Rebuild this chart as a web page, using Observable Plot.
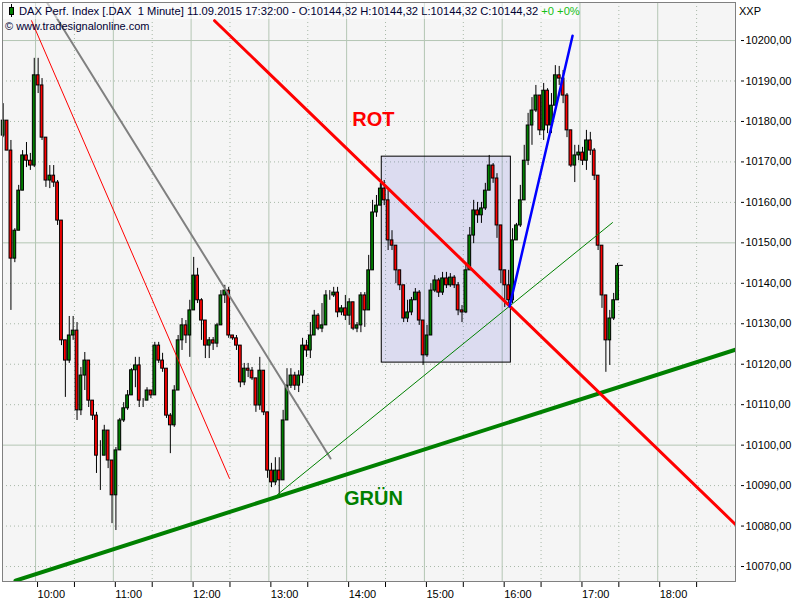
<!DOCTYPE html>
<html><head><meta charset="utf-8">
<script src="https://cdn.jsdelivr.net/npm/d3@7"></script>
<script src="https://cdn.jsdelivr.net/npm/@observablehq/plot@0.6"></script>
<style>
body{margin:0;background:#fff;}
#chart{position:absolute;left:0;top:0;}
</style></head><body><div id="chart"></div>
<script>
// ---- data (DAX 11.09.2015, 3-minute sampling of the 1-minute chart) ----
const startTime = "2015-09-11T09:35:00Z";
const intervalMinutes = 3;
const firstOpen = 10176.5;
const closes = [
10180.2,10172.8,10146.1,10153.0,10162.9,10171.6,10170.3,10169.1,10191.4,10188.9,
10176.0,10165.4,10166.6,10164.9,10155.5,10125.9,10120.9,10127.1,10128.3,10108.6,
10117.2,10120.9,10111.0,10107.3,10097.4,10097.4,10103.6,10096.2,10087.6,10098.7,
10106.1,10109.1,10112.3,10118.5,10119.7,10111.0,10111.0,10113.5,10112.3,10124.6,
10120.9,10118.9,10107.3,10104.9,10113.5,10125.9,10129.6,10127.1,10133.3,10141.9,
10135.8,10130.8,10124.6,10125.9,10125.1,10129.6,10137.0,10138.2,10127.1,10126.4,
10124.6,10115.5,10118.9,10118.4,10116.5,10109.8,10118.4,10108.1,10093.7,10090.8,
10093.7,10091.3,10106.1,10114.7,10117.2,10114.7,10117.2,10124.6,10123.4,10127.1,
10132.0,10128.8,10129.6,10137.0,10137.0,10137.7,10132.8,10133.8,10132.0,10135.3,
10128.8,10129.6,10137.0,10133.3,10143.2,10157.5,10159.2,10163.4,10160.5,10150.6,
10149.3,10143.2,10139.5,10131.3,10132.8,10135.8,10137.7,10130.8,10122.2,10127.1,
10138.2,10140.7,10137.7,10141.2,10139.5,10141.4,10139.5,10133.3,10132.8,10143.2,
10151.8,10158.0,10156.8,10158.5,10162.9,10169.1,10165.9,10154.3,10143.2,10139.5,
10135.8,10150.6,10154.3,10160.5,10170.3,10179.0,10182.7,10186.4,10177.8,10187.6,
10179.0,10183.9,10191.4,10190.6,10186.4,10177.8,10169.1,10171.6,10172.3,10170.3,
10175.3,10172.8,10166.6,10149.3,10137.0,10125.9,10131.3,10135.8,10144.3,10144.32];
const highs = [
10184.4,10176.0,10175.3,10153.5,10164.2,10172.8,10174.8,10172.1,10195.6,10195.6,
10190.6,10176.0,10169.1,10169.1,10165.4,10155.5,10125.9,10131.8,10131.8,10130.3,
10119.2,10122.9,10120.9,10111.0,10108.1,10101.1,10104.9,10103.6,10096.2,10099.4,
10106.6,10110.5,10113.5,10118.9,10121.7,10121.7,10111.5,10114.2,10113.5,10125.4,
10125.4,10122.7,10118.9,10107.8,10114.7,10127.1,10131.3,10130.8,10135.8,10146.4,
10143.7,10136.2,10130.8,10126.6,10126.6,10130.1,10138.2,10139.5,10139.0,10127.1,
10127.1,10124.6,10120.2,10120.2,10119.2,10116.5,10121.7,10118.4,10108.1,10095.5,
10096.9,10096.9,10108.6,10118.9,10118.9,10118.0,10118.4,10126.4,10125.9,10130.3,
10133.3,10132.5,10135.0,10138.2,10138.2,10139.0,10139.0,10134.5,10137.0,10136.2,
10135.3,10130.3,10137.7,10137.7,10146.9,10160.5,10161.7,10164.7,10165.4,10162.9,
10153.0,10149.3,10142.4,10139.5,10135.8,10136.5,10138.7,10138.2,10130.8,10129.6,
10139.9,10141.9,10141.2,10142.7,10142.7,10142.4,10141.9,10140.2,10134.5,10144.4,
10153.8,10160.5,10160.0,10160.0,10164.7,10171.6,10169.6,10167.1,10154.3,10143.2,
10143.2,10153.5,10154.8,10164.2,10174.1,10182.0,10185.9,10188.9,10186.4,10189.4,
10188.1,10186.9,10193.8,10193.6,10192.6,10186.9,10177.8,10174.1,10174.1,10173.6,
10177.8,10177.3,10173.3,10166.6,10149.3,10137.0,10133.3,10137.5,10144.9,10144.32];
const lows = [
10176.0,10172.8,10133.3,10145.1,10153.0,10162.9,10168.6,10167.9,10168.6,10186.9,
10175.3,10163.7,10163.4,10163.7,10154.3,10124.6,10111.8,10120.2,10125.9,10106.1,
10107.3,10113.5,10109.3,10106.1,10093.0,10088.8,10097.4,10094.2,10080.6,10078.9,
10098.7,10105.6,10108.6,10112.3,10114.2,10109.3,10109.3,10111.0,10111.5,10112.3,
10120.2,10118.0,10106.6,10097.9,10104.4,10113.5,10123.4,10125.1,10121.7,10133.3,
10135.0,10125.9,10121.4,10121.4,10123.4,10124.1,10129.6,10135.0,10126.4,10125.9,
10123.4,10114.2,10114.7,10116.7,10116.0,10108.1,10108.6,10107.3,10091.8,10089.5,
10090.0,10087.6,10091.3,10106.1,10114.0,10113.5,10113.0,10115.2,10121.7,10121.4,
10127.1,10128.3,10127.8,10129.6,10135.8,10136.5,10131.5,10132.0,10130.8,10129.6,
10128.3,10127.8,10127.8,10129.1,10133.3,10143.2,10156.3,10159.2,10159.2,10148.1,
10148.1,10139.9,10138.2,10130.3,10130.3,10132.0,10135.8,10129.6,10119.7,10121.7,
10127.1,10137.7,10136.5,10137.0,10138.7,10139.0,10138.7,10132.0,10130.3,10132.5,
10143.2,10149.8,10154.8,10154.8,10158.0,10162.9,10164.7,10151.1,10139.9,10134.0,
10134.5,10135.0,10150.6,10153.8,10160.5,10169.1,10174.1,10182.2,10176.5,10175.3,
10177.0,10177.0,10183.9,10188.9,10184.4,10176.0,10168.6,10164.9,10170.3,10169.1,
10167.9,10171.6,10165.4,10148.1,10133.8,10118.0,10119.7,10130.8,10135.8,10144.32];

// trend lines drawn on the chart (time, price)
const thinRedTimes = ["09:56:54","12:29:36"], thinRedPrices = [10204.9,10091.8];
const grayTimes = ["10:09:12","13:47:36"], grayPrices = [10209.2,10096.7];
const rotTimes = ["12:18:06","19:00:00"], rotPrices = [10204.9,10080.4];
const gruenTimes = ["09:44:30","19:00:00"], gruenPrices = [10066.5,10123.6];
const thinGreenTimes = ["13:06:42","17:25:06"], thinGreenPrices = [10087.8,10155.0];
const blueTimes = ["16:05:42","16:54:18"], bluePrices = [10134.3,10201.2];
const boxTimes = ["14:27:06","16:06:42"], boxPrices = [10120.4,10171.3];
const labelTexts = ["ROT","GRÜN"], labelTimes = ["14:20:42","14:20:42"], labelPrices = [10180.4,10086.8], labelColors = ["#ff0000","#008000"];

// axes
const hourTicks = ["10:00","11:00","12:00","13:00","14:00","15:00","16:00","17:00","18:00"];
const halfHourTicks = ["10:30","11:30","12:30","13:30","14:30","15:30","16:30","17:30","18:30"];
const priceTicks = [10070,10080,10090,10100,10110,10120,10130,10140,10150,10160,10170,10180,10190,10200];
const solidPriceLines = [10100,10150,10200];
const xDomain = ["09:34:30","19:00:00"];
const yDomain = [10066.3,10209.4];

const titleText = "DAX Perf. Index [.DAX  1 Minute] 11.09.2015 17:32:00 - O:10144,32 H:10144,32 L:10144,32 C:10144,32";
const changeText = " +0 +0%";
const copyrightText = "© www.tradesignalonline.com";

// ---- build ----
const day = "2015-09-11T";
const T = s => new Date(day + (s.length === 5 ? s + ":00" : s) + "Z");
const t0 = new Date(startTime);
const candles = closes.map((c, i) => {
  const open = i ? closes[i - 1] : firstOpen;
  return {
    time: new Date(+t0 + i * intervalMinutes * 60000),
    open, close: c,
    high: Math.max(highs[i], open, c),
    low: Math.min(lows[i], open, c)
  };
});
const seg = (times, prices) => times.map((t, i) => ({t: T(t), p: prices[i]}));
const halfW = 64000;

const fmtPrice = d => d.toFixed(2).replace(".", ",");
const gridSolid = "#b4c6b4";
const gridDot = "#a8b8a8";
const FONT = "'Liberation Sans', Arial, sans-serif";

const chart = Plot.plot({
  width: 800, height: 600,
  marginTop: 2, marginRight: 65, marginBottom: 19, marginLeft: 2,
  style: {fontFamily: FONT, fontSize: "11px", background: "#fff", color: "#000", overflow: "visible"},
  x: {type: "utc", domain: xDomain.map(T)},
  y: {domain: yDomain},
  marks: [
    Plot.frame({fill: "#f5f5f5", stroke: "none"}),
    Plot.ruleX(halfHourTicks.map(T), {stroke: gridDot, strokeDasharray: "1,3"}),
    Plot.ruleY(priceTicks.filter(v => !solidPriceLines.includes(v)), {stroke: gridDot, strokeDasharray: "1,3"}),
    Plot.ruleX(hourTicks.map(T), {stroke: gridSolid}),
    Plot.ruleY(solidPriceLines, {stroke: gridSolid}),
    Plot.rect([{x1: T(boxTimes[0]), x2: T(boxTimes[1]), y1: boxPrices[0], y2: boxPrices[1]}],
      {x1: "x1", x2: "x2", y1: "y1", y2: "y2", fill: "#2a2ad0", fillOpacity: 0.12, stroke: "#000", strokeWidth: 1}),
    Plot.ruleX(candles, {x: "time", y1: "low", y2: "high", stroke: "#000", strokeWidth: 1}),
    Plot.rect(candles, {
      x1: d => new Date(+d.time - halfW), x2: d => new Date(+d.time + halfW),
      y1: "open", y2: "close",
      fill: d => d.close >= d.open ? "#008000" : "#ff0000",
      stroke: "#000", strokeWidth: 1
    }),
    Plot.line(seg(thinRedTimes, thinRedPrices), {x: "t", y: "p", stroke: "#ff0000", strokeWidth: 1}),
    Plot.line(seg(grayTimes, grayPrices), {x: "t", y: "p", stroke: "#808080", strokeWidth: 2}),
    Plot.line(seg(thinGreenTimes, thinGreenPrices), {x: "t", y: "p", stroke: "#008000", strokeWidth: 1}),
    Plot.line(seg(gruenTimes, gruenPrices), {x: "t", y: "p", stroke: "#008000", strokeWidth: 4, clip: true}),
    Plot.line(seg(rotTimes, rotPrices), {x: "t", y: "p", stroke: "#ff0000", strokeWidth: 3, clip: true}),
    Plot.line(seg(blueTimes, bluePrices), {x: "t", y: "p", stroke: "#0000ff", strokeWidth: 2.5}),
    Plot.text(labelTexts, {x: (d, i) => T(labelTimes[i]), y: (d, i) => labelPrices[i], text: d => d,
      fill: (d, i) => labelColors[i], fontSize: 20, fontWeight: "bold", fontFamily: FONT}),
    Plot.axisX(halfHourTicks.map(T), {tickSize: 6, tickFormat: () => "", label: null, stroke: "#000"}),
    Plot.axisX(hourTicks.map(T), {tickSize: 6, tickPadding: 3, tickFormat: d3.utcFormat("%H:%M"), textAnchor: "start", dx: 2, label: null, stroke: "#000", fill: "#000"}),
    Plot.axisY(priceTicks, {anchor: "right", tickSize: 3, tickPadding: 2, dx: 5, tickFormat: fmtPrice, label: null, stroke: "#000", fill: "#000"}),
    Plot.frame({stroke: "#808080"})
  ]
});

const svg = d3.select(chart);
const g = svg.append("g").attr("text-anchor", "start");
g.append("rect").attr("x", 3).attr("y", 3).attr("width", 574).attr("height", 16).attr("fill", "#fff").attr("fill-opacity", 0.55);
// icon candle
g.append("line").attr("x1", 11.5).attr("x2", 11.5).attr("y1", 4).attr("y2", 17).attr("stroke", "#000");
g.append("rect").attr("x", 9.5).attr("y", 7.5).attr("width", 4).attr("height", 7).attr("fill", "#008000").attr("stroke", "#000");
const tt = g.append("text").attr("x", 19).attr("y", 15).attr("text-anchor", "start")
  .attr("font-family", FONT).attr("font-size", 11.2)
  .attr("fill", "#000033").style("white-space", "pre");
tt.append("tspan").text(titleText);
tt.append("tspan").attr("fill", "#18c018").text(changeText);
g.append("text").attr("x", 5).attr("y", 30).attr("text-anchor", "start")
  .attr("font-family", FONT).attr("font-size", 11)
  .attr("fill", "#000033").text(copyrightText);
g.append("text").attr("x", 739).attr("y", 15).attr("text-anchor", "start")
  .attr("font-family", FONT).attr("font-size", 11)
  .attr("fill", "#000").text("XXP");

document.getElementById("chart").appendChild(chart);
</script>
</body></html>
